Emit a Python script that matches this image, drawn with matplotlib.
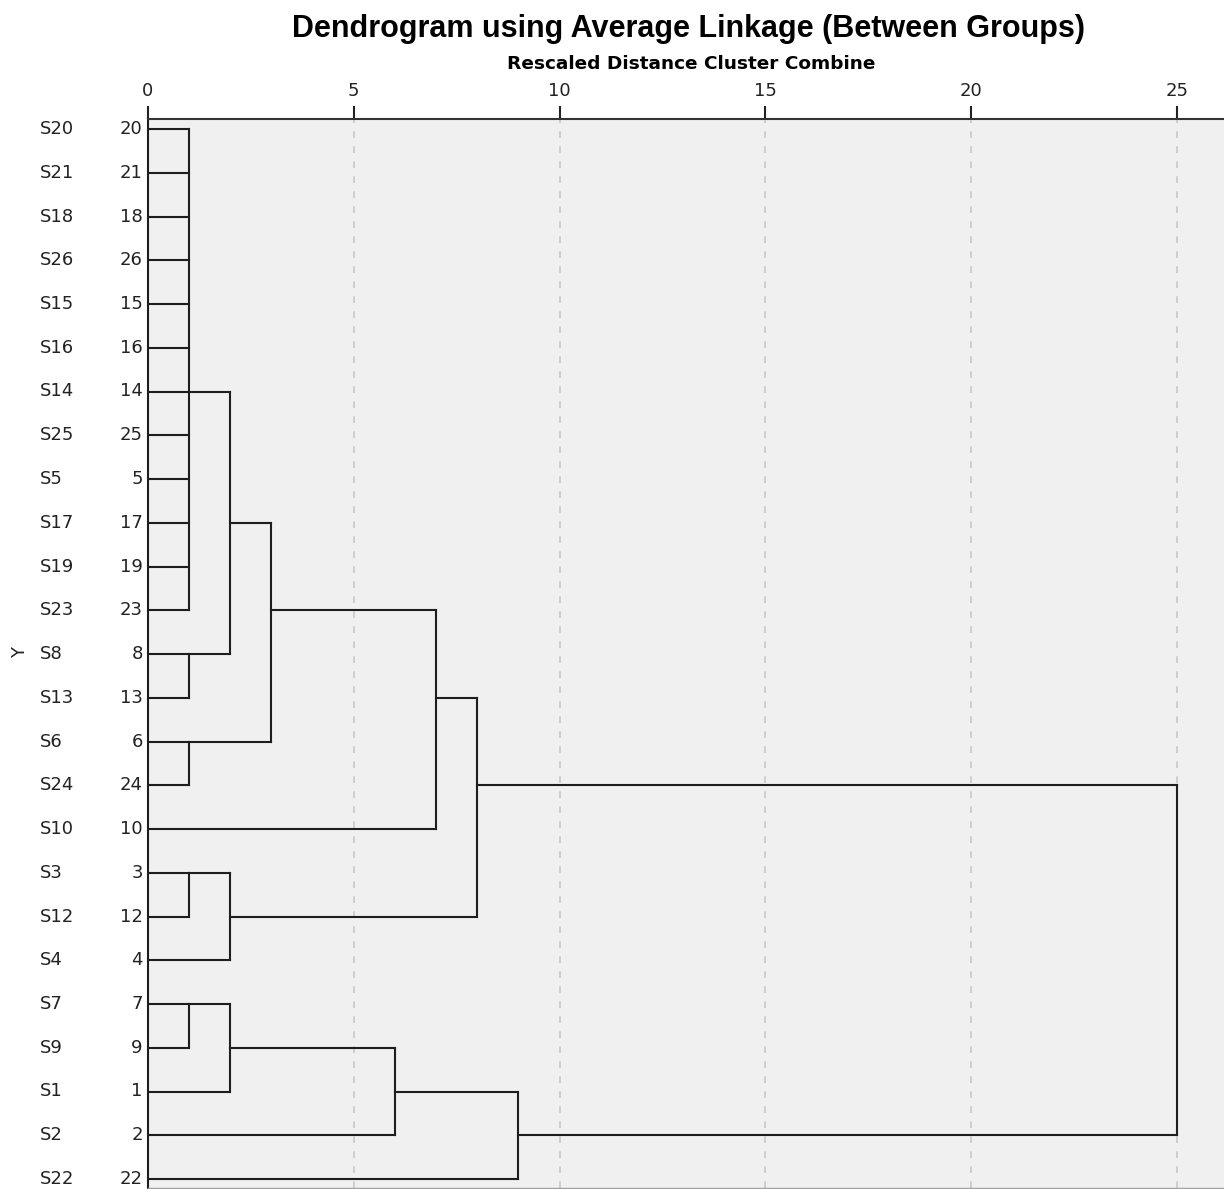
#Imports
import numpy as np
import matplotlib.pyplot as plt

plt.rcParams['font.family'] = ['Liberation Sans', 'DejaVu Sans']

# Leaf order top to bottom (case numbers) and their labels
case_order = [20, 21, 18, 26, 15, 16, 14, 25, 5, 17, 19, 23, 8, 13, 6, 24, 10,
              3, 12, 4, 7, 9, 1, 2, 22]
case_names = ['S' + str(c) for c in case_order]

# Merges: name, members (cases or earlier clusters), rescaled distance,
# case on whose row the joining line leaves the bracket
merge_names = ['A', 'B', 'C', 'D', 'E', 'F', 'G', 'H', 'I', 'J', 'K', 'L', 'M', 'N']
merge_members = [[20, 21, 18, 26, 15, 16, 14, 25, 5, 17, 19, 23],
                 [8, 13], [6, 24], ['A', 'B'], ['D', 'C'], ['E', 10],
                 [3, 12], ['G', 4], ['F', 'H'],
                 [7, 9], ['J', 1], ['K', 2], ['L', 22], ['I', 'M']]
merge_dist = [1, 1, 1, 2, 3, 7, 1, 2, 8, 1, 2, 6, 9, 25]
merge_anchor = [14, 8, 6, 17, 23, 13, 3, 12, 24, 7, 9, 1, 2, None]

x_ticks = [0, 5, 10, 15, 20, 25]

#Figure
W, H = 1224, 1189
fig = plt.figure(figsize=(W/100, H/100), dpi=100)
ax_l, ax_r, ax_t, ax_b = 147.7, 1224, 119, 1187.7
ax = fig.add_axes([ax_l/W, 1-ax_b/H, (ax_r-ax_l)/W, (ax_b-ax_t)/H])
ax.set_facecolor('#f0f0f0')

row = {c: i for i, c in enumerate(case_order)}
pos = {c: (float(row[c]), 0.0) for c in case_order}  # (row, x) of each node
lc = '#1e1e1e'
lw = 1.5

for name, members, d, anchor in zip(merge_names, merge_members, merge_dist, merge_anchor):
    rows = []
    for m in members:
        r, x0 = pos[m]
        ax.plot([x0, d], [r, r], color=lc, lw=lw, solid_capstyle='projecting', zorder=3)
        rows.append(r)
    ax.plot([d, d], [min(rows), max(rows)], color=lc, lw=lw,
            solid_capstyle='projecting', zorder=3)
    out_row = row[anchor] if anchor is not None else (min(rows)+max(rows))/2
    pos[name] = (float(out_row), float(d))

# grid
for t in x_ticks[1:]:
    ax.axvline(t, color='#c8c8c8', lw=1.2, ls=(0, (4, 5)), zorder=1)

lab_font = 'DejaVu Sans'
ax.set_xlim(0, (ax_r-ax_l)/41.18)
ax.set_ylim((ax_b-129)/43.75, (ax_t-129)/43.75)
ax.xaxis.tick_top()
ax.set_xticks(x_ticks)
ax.tick_params(axis='x', direction='out', length=9.5, width=1.5, pad=4,
               labelsize=13, colors='#222222')
for lbl in ax.get_xticklabels():
    lbl.set_fontfamily(lab_font)
ax.set_yticks([])
ax.spines['right'].set_visible(False)
ax.spines['top'].set_color('#333333')
ax.spines['top'].set_linewidth(1.5)
ax.spines['left'].set_color(lc)
ax.spines['left'].set_linewidth(1.5)
ax.spines['bottom'].set_color('#a0a0a0')
ax.spines['bottom'].set_linewidth(1)

trans = ax.get_yaxis_transform()
for c, nm in zip(case_order, case_names):
    ax.text(-5/(ax_r-ax_l), row[c], str(c), transform=trans, ha='right',
            va='center', fontsize=13, color='#222222', family=lab_font)
    ax.text(-(ax_l-40)/(ax_r-ax_l), row[c], nm, transform=trans, ha='left',
            va='center', fontsize=13, color='#222222', family=lab_font)

fig.text(20/W, 1-653/H, 'Y', rotation=90, ha='center', va='center',
         fontsize=13, color='#222222', family=lab_font)
fig.text(688/W, 1-37/H, 'Dendrogram using Average Linkage (Between Groups)',
         ha='center', va='baseline', fontsize=22, fontweight='bold', color='black')
fig.text(691/W, 1-69/H, 'Rescaled Distance Cluster Combine',
         ha='center', va='baseline', fontsize=13.3, fontweight='bold', color='black',
         family=lab_font)

fig.savefig('out.png', dpi=100)
